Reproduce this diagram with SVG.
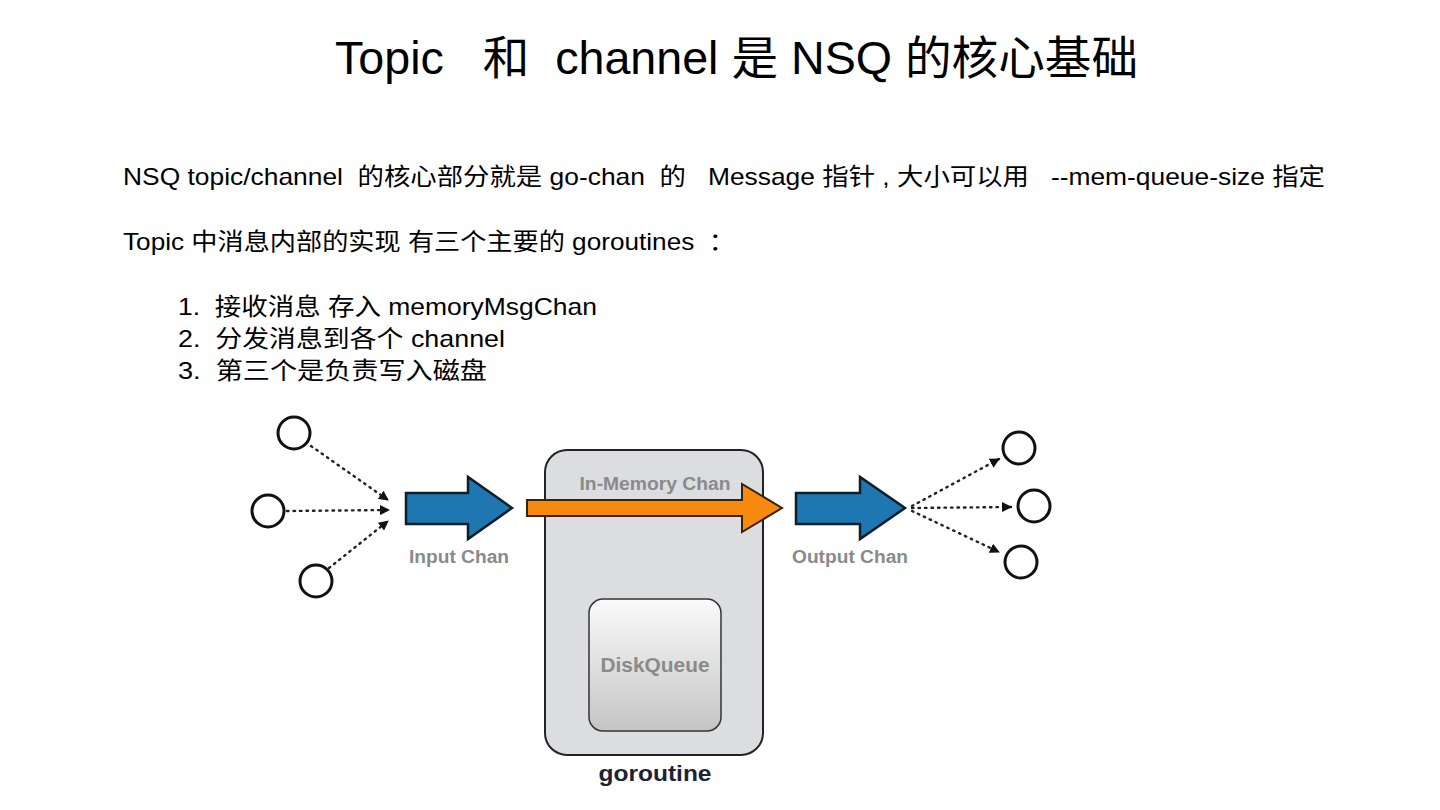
<svg xmlns="http://www.w3.org/2000/svg" width="1440" height="810" viewBox="0 0 1440 810">
<style>
.t{font-family:"Liberation Sans","Noto Sans CJK SC",sans-serif;fill:#000}
.lbl{font-family:"Liberation Sans",Arial,sans-serif;font-weight:bold;fill:#8a8a8a;text-anchor:middle}
.circ{fill:#fff;stroke:#111;stroke-width:3}
.dot{stroke:#222;stroke-width:2.4;stroke-dasharray:1.5 5;stroke-linecap:round;fill:none}
.blue{fill:#1f77b2;stroke:#0d1d2a;stroke-width:2.5;stroke-linejoin:miter}
</style>
<defs>
<marker id="tri" viewBox="0 0 10 10" refX="9" refY="5" markerWidth="10" markerHeight="10" markerUnits="userSpaceOnUse" orient="auto">
<path d="M0,0 L10,5 L0,10 z" fill="#111"/>
</marker>
<marker id="open" viewBox="0 0 10 10" refX="9" refY="5" markerWidth="8" markerHeight="8" markerUnits="userSpaceOnUse" orient="auto-start-reverse">
<path d="M1,1 L9,5 L1,9" fill="none" stroke="#222" stroke-width="1.2"/>
</marker>
<linearGradient id="dq" x1="0" y1="0" x2="0" y2="1">
<stop offset="0" stop-color="#fbfbfb"/>
<stop offset="1" stop-color="#c4c4c4"/>
</linearGradient>
</defs>
<rect width="1440" height="810" fill="#fff"/>

<g id="title">
<text class="t" x="335" y="74" font-size="46" textLength="803" lengthAdjust="spacingAndGlyphs" xml:space="preserve">Topic   和  channel 是 NSQ 的核心基础</text>
</g>
<g id="body">
<text class="t" x="123" y="185" font-size="24" textLength="1202" lengthAdjust="spacingAndGlyphs" xml:space="preserve">NSQ topic/channel  的核心部分就是 go-chan  的   Message 指针 , 大小可以用   --mem-queue-size 指定</text>
<text class="t" x="123" y="250" font-size="24" textLength="612" lengthAdjust="spacingAndGlyphs" xml:space="preserve">Topic 中消息内部的实现 有三个主要的 goroutines  ：</text>
<text class="t" x="178" y="315" font-size="24" textLength="419" lengthAdjust="spacingAndGlyphs" xml:space="preserve">1.  接收消息 存入 memoryMsgChan</text>
<text class="t" x="178" y="347" font-size="24" textLength="327" lengthAdjust="spacingAndGlyphs" xml:space="preserve">2.  分发消息到各个 channel</text>
<text class="t" x="178" y="379" font-size="24" textLength="309" lengthAdjust="spacingAndGlyphs" xml:space="preserve">3.  第三个是负责写入磁盘</text>
</g>

<g id="connectors">
<line class="dot" x1="311" y1="446" x2="388" y2="500" marker-end="url(#tri)"/>
<line class="dot" x1="287" y1="511" x2="389" y2="510" marker-end="url(#tri)"/>
<line class="dot" x1="329" y1="568" x2="388" y2="521" marker-end="url(#tri)"/>
<line class="dot" x1="912" y1="506" x2="999" y2="459" marker-end="url(#tri)"/>
<line class="dot" x1="912" y1="508" x2="1011" y2="507" marker-end="url(#tri)"/>
<line class="dot" x1="912" y1="511" x2="999" y2="552" marker-end="url(#tri)"/>
<line x1="655" y1="523" x2="655" y2="589" stroke="#222" stroke-width="1.3" marker-start="url(#open)" marker-end="url(#open)"/>
</g>

<g id="sources">
<circle class="circ" cx="294" cy="433" r="16"/>
<circle class="circ" cx="268" cy="511" r="16"/>
<circle class="circ" cx="316" cy="581" r="16"/>
</g>
<g id="sinks">
<circle class="circ" cx="1019" cy="448" r="16"/>
<circle class="circ" cx="1034" cy="506" r="16"/>
<circle class="circ" cx="1021" cy="562" r="16"/>
</g>

<g id="input-chan">
<path class="blue" d="M406,493 L468,493 L468,477 L512,508 L468,539 L468,524 L406,524 Z"/>
<text class="lbl" x="459" y="563" font-size="18" textLength="100" lengthAdjust="spacingAndGlyphs">Input Chan</text>
</g>

<g id="goroutine">
<rect x="545" y="450" width="218" height="305" rx="22" fill="#dcdde0" stroke="#222" stroke-width="2"/>
<text x="655" y="781" font-family="Liberation Sans,Arial,sans-serif" font-weight="bold" font-size="22" fill="#1c2333" text-anchor="middle" textLength="113" lengthAdjust="spacingAndGlyphs">goroutine</text>
</g>

<g id="diskqueue">
<rect x="589" y="599" width="132" height="132" rx="14" fill="url(#dq)" stroke="#333" stroke-width="1.5"/>
<text class="lbl" x="655" y="672" font-size="20" textLength="109" lengthAdjust="spacingAndGlyphs">DiskQueue</text>
</g>

<g id="in-memory-chan">
<path d="M527,500 L742,500 L742,484 L782,508 L742,532 L742,516 L527,516 Z" fill="#f7890f" stroke="#3a2208" stroke-width="2"/>
<text class="lbl" x="655" y="490" font-size="18" textLength="151" lengthAdjust="spacingAndGlyphs">In-Memory Chan</text>
</g>

<g id="output-chan">
<path class="blue" d="M796,493 L860,493 L860,477 L905,508 L860,539 L860,524 L796,524 Z"/>
<text class="lbl" x="850" y="563" font-size="18" textLength="116" lengthAdjust="spacingAndGlyphs">Output Chan</text>
</g>
</svg>
